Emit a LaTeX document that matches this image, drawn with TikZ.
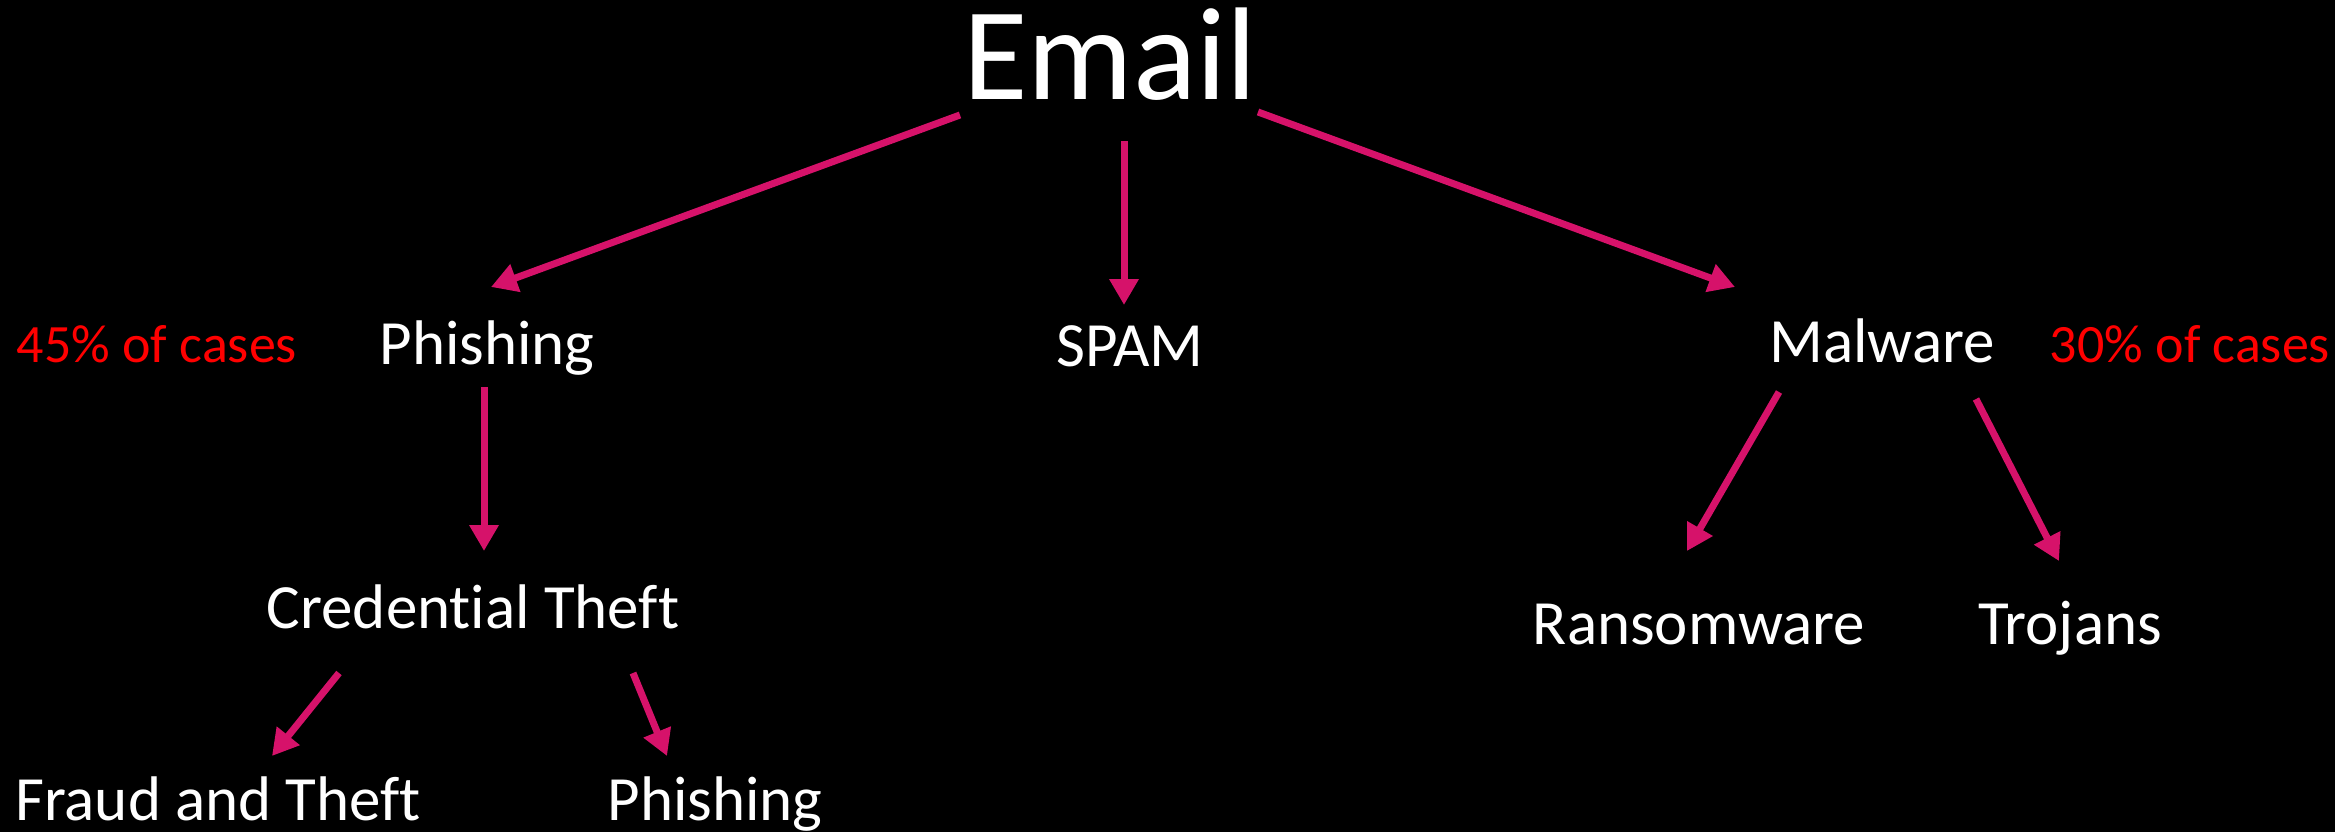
\documentclass[tikz,border=0pt]{standalone}
\usepackage{fontspec}
\setmainfont{Carlito}[Ligatures=NoCommon]
\usetikzlibrary{arrows.meta}
\definecolor{pinkline}{RGB}{214,18,106}
\definecolor{redtxt}{RGB}{255,0,0}
\tikzset{
  lbl/.style={text=white, anchor=base, inner sep=0pt, font=\fontsize{63}{63}\selectfont},
  pct/.style={text=redtxt, anchor=base, inner sep=0pt, font=\fontsize{54}{54}\selectfont},
  arr/.style={draw=pinkline, line width=7pt, -{Triangle[length=26pt,width=28pt]}},
}
\begin{document}
\begin{tikzpicture}[x=1pt,y=-1pt]
\fill[black] (0,0) rectangle (2335,832);
\useasboundingbox (0,0) rectangle (2335,832);
% nodes
\node[text=white, anchor=base, inner sep=0pt, font=\fontsize{132}{132}\selectfont] (email) at (1110,100) {Email};
\node[lbl] (phish) at (487,364) {Phishing};
\node[pct] (p45) at (157,362) {45\% of cases};
\node[lbl] (spam) at (1130,366) {SPAM};
\node[lbl] (malw) at (1882,362) {Malware};
\node[pct] (p30) at (2190,362) {30\% of cases};
\node[lbl] (cred) at (473,628) {Credential Theft};
\node[lbl] (fraud) at (218,820) {Fraud and Theft};
\node[lbl] (phish2) at (715,820) {Phishing};
\node[lbl] (ransom) at (1699,644) {Ransomware};
\node[lbl] (troj) at (2070,644) {Trojans};
% connector end points
\coordinate (eA) at (960,115);  \coordinate (pA) at (491,287);
\coordinate (eB) at (1124,141); \coordinate (sB) at (1124,305);
\coordinate (eC) at (1258,112); \coordinate (mC) at (1735,287);
\coordinate (pD) at (484,387);  \coordinate (cD) at (484,551);
\coordinate (cE) at (339,673);  \coordinate (fE) at (272,756);
\coordinate (cF) at (633,673);  \coordinate (qF) at (667,756);
\coordinate (mG) at (1779,392); \coordinate (rG) at (1687,551);
\coordinate (mH) at (1976,399); \coordinate (tH) at (2059,561);
% connectors
\draw[arr] (eA) -- (pA);
\draw[arr] (eB) -- (sB);
\draw[arr] (eC) -- (mC);
\draw[arr] (pD) -- (cD);
\draw[arr] (cE) -- (fE);
\draw[arr] (cF) -- (qF);
\draw[arr] (mG) -- (rG);
\draw[arr] (mH) -- (tH);
\end{tikzpicture}
\end{document}
